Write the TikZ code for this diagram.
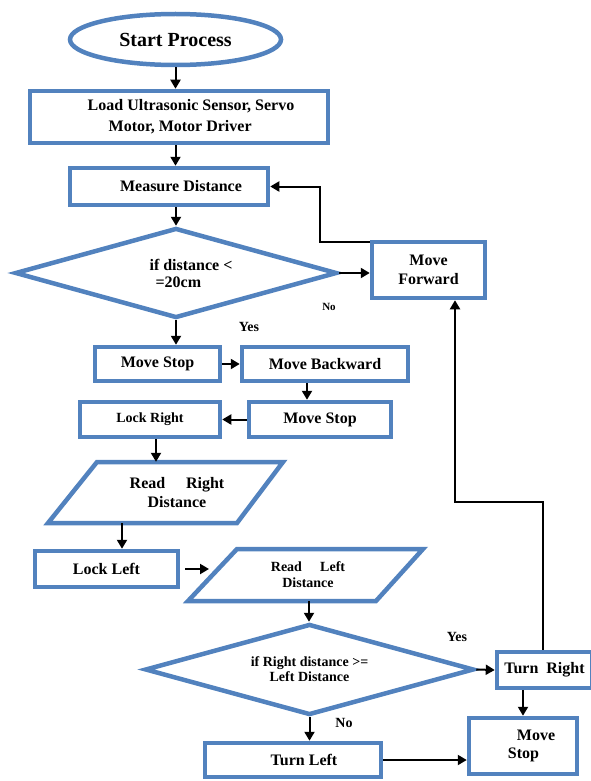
\documentclass[tikz,border=0pt]{standalone}
\usepackage{fontspec}
\setmainfont{Liberation Serif}
\usetikzlibrary{shapes.geometric,arrows.meta,calc}
\definecolor{fblue}{RGB}{82,130,190}
\begin{document}
\begin{tikzpicture}[x=1pt,y=-1pt,
  box/.style={draw=fblue,line width=4.5pt,rectangle,inner sep=0pt,align=center,
    font=\bfseries\fontsize{16}{19}\selectfont},
  ghost/.style={rectangle,inner sep=0pt,align=center},
  para/.style={draw=fblue,line width=4.5pt,line join=miter},
  arr/.style={draw=black,line width=2pt,-{Triangle[length=9pt,width=10pt]}},
  lbl/.style={font=\bfseries\fontsize{14}{16}\selectfont,inner sep=0pt}]
\useasboundingbox (0,0) rectangle (590,781);

\node[ellipse,draw=fblue,line width=4.5pt,minimum width=211pt,minimum height=51pt,inner sep=0pt,
  font=\bfseries\fontsize{20}{24}\selectfont] (start) at (175.5,39.5) {Start Process};
\node[box,minimum width=298pt,minimum height=52pt,align=left,font=\bfseries\fontsize{16}{21}\selectfont]
  (load) at (179,117) {\hspace*{24pt}Load Ultrasonic Sensor, Servo\\\hspace*{45pt}Motor, Motor Driver};
\node[box,minimum width=198pt,minimum height=37pt] (meas) at (169,186.5) {\hspace*{24pt}Measure Distance};
\node[diamond,aspect=3.58,draw=fblue,line width=4.5pt,minimum width=322pt,minimum height=90pt,inner sep=0pt,
  align=left,font=\bfseries\fontsize{16}{17}\selectfont] (d1) at (176,273)
  {\hspace*{30pt}if distance <\\\hspace*{36pt}=20cm};
\node[box,minimum width=113pt,minimum height=56pt] (mf) at (428.5,270) {Move\\Forward};
\node[box,minimum width=125pt,minimum height=34pt] (ms1) at (157.5,364) {Move Stop};
\node[box,minimum width=166pt,minimum height=34pt] (mb) at (325,364) {Move Backward};
\node[box,minimum width=142pt,minimum height=35pt] (ms2) at (320,419.5) {Move Stop};
\node[box,minimum width=140pt,minimum height=35pt,font=\bfseries\fontsize{14}{16}\selectfont] (lr) at (150,419.5) {Lock Right};

\node[ghost,minimum height=61pt,font=\bfseries\fontsize{16}{19}\selectfont] (rr) at (177,492.5) {Read\hspace{1.3em}Right\\Distance};
\draw[para] ($(rr.center)+(-80,-30.5)$) -- ++(186,0) -- ($(rr.center)+(60,30.5)$) -- ++(-189,0) -- cycle;

\node[box,minimum width=143pt,minimum height=36pt] (ll) at (106.5,569) {Lock Left};

\node[ghost,minimum height=52pt,font=\bfseries\fontsize{14}{16}\selectfont] (rl) at (308,575) {Read\hspace{1.3em}Left\\Distance};
\draw[para] ($(rl.center)+(-71,-26)$) -- ++(186,0) -- ($(rl.center)+(68,26)$) -- ++(-188,0) -- cycle;

\node[diamond,aspect=3.6,draw=fblue,line width=4.5pt,minimum width=329pt,minimum height=91pt,inner sep=0pt,
  align=center,font=\bfseries\fontsize{14}{15}\selectfont] (d2) at (309.5,669.5)
  {if Right distance >=\\Left Distance};
\node[box,minimum width=95pt,minimum height=36pt] (tr) at (544.5,670) {Turn\hspace{0.5em}Right};
\node[box,minimum width=108pt,minimum height=56pt,align=left,font=\bfseries\fontsize{16}{18}\selectfont]
  (ms3) at (523,746) {\hspace*{26pt}Move\\\hspace*{17pt}Stop};
\node[box,minimum width=176pt,minimum height=34pt] (tl) at (293,760) {\hspace*{22pt}Turn Left};

\node[lbl,font=\bfseries\fontsize{11}{13}\selectfont] (no1) at (329,307) {No};
\node[lbl] (yes1) at (249,327) {Yes};
\node[lbl] (yes2) at (457,637) {Yes};
\node[lbl] (no2) at (344,723) {No};

\draw[arr] (start.south) -- (start.south |- load.north);
\draw[arr] (start.south |- load.south) -- (start.south |- meas.north);
\draw[arr] (d1.north |- meas.south) -- (d1.north);
\draw[arr] (d1.east) -- (d1.east -| mf.west);
\draw[arr] ([yshift=-2pt]mf.north west) -- ++(-50,0) |- (meas.east);
\draw[arr] (d1.south) -- (d1.south |- ms1.north);
\draw[arr] (ms1.east) -- (mb.west);
\draw[arr] ([xshift=-18pt]mb.south) -- ([xshift=-18pt]mb.south |- ms2.north);
\draw[arr] (ms2.west) -- (lr.east);
\draw[arr] ([xshift=6pt]lr.south) -- ([xshift=6pt]lr.south |- rr.north);
\draw[arr] ([xshift=-55pt]rr.south) -- ([xshift=-55pt]rr.south |- ll.north);
\draw[arr] ([xshift=5pt]ll.east) -- ([xshift=-99pt]rl.center |- ll.east);
\draw[arr] ([xshift=1pt]rl.south) -- ([xshift=1pt]rl.south |- d2.north);
\draw[arr] (d2.east) -- (tr.west);
\coordinate (bend) at (455,502);
\draw[arr] ([xshift=-1.5pt]tr.north) |- (bend) -- (bend |- mf.south);
\draw[arr] ([xshift=-21.5pt]tr.south) -- ([xshift=-21.5pt]tr.south |- ms3.north);
\draw[arr] (d2.south) -- (d2.south |- tl.north);
\draw[arr] (tl.east) -- (tl.east -| ms3.west);
\end{tikzpicture}
\end{document}
